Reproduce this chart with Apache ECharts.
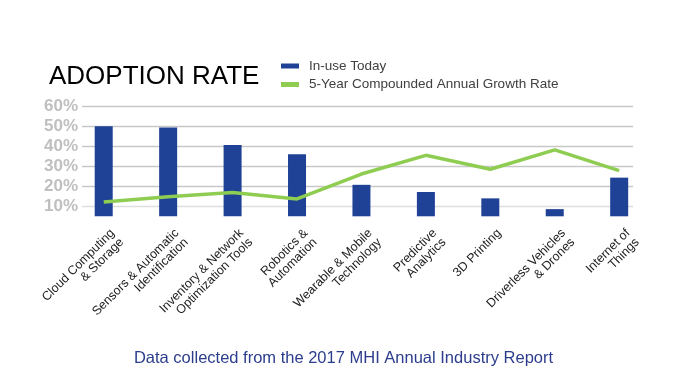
<!DOCTYPE html>
<html>
<head>
<meta charset="utf-8">
<script src="https://cdn.jsdelivr.net/npm/echarts@6/dist/echarts.min.js"></script>
<style>
html,body{margin:0;padding:0;background:#fff;}
#chart{width:687px;height:383px;}
</style>
</head>
<body>
<div id="chart"></div>
<script>
const categories = [
  'Cloud Computing\n& Storage',
  'Sensors & Automatic\nIdentification',
  'Inventory & Network\nOptimization Tools',
  'Robotics &\nAutomation',
  'Wearable & Mobile\nTechnology',
  'Predictive\nAnalytics',
  '3D Printing',
  'Driverless Vehicles\n& Drones',
  'Internet of\nThings'
];
const inUseToday = [50.2, 49.6, 40.8, 36.1, 20.8, 17.2, 14.0, 8.6, 24.4];
const cagr5yr = [12.2, 14.8, 17.0, 13.7, 26.2, 35.6, 28.6, 38.3, 27.9];
const yTicks = [10, 20, 30, 40, 50, 60];
const yMin = 5, yMax = 60;

const chart = echarts.init(document.getElementById('chart'));
const FONT = 'Liberation Sans, Arial, sans-serif';

const gridColors = [];
for (let v = yMin; v <= yMax; v += 5) {
  if (yTicks.indexOf(v) < 0) gridColors.push('rgba(0,0,0,0)');
  else gridColors.push(v === 10 ? '#dedede' : '#c8c8c8');
}

chart.setOption({
  animation: false,
  backgroundColor: '#ffffff',
  title: [{
    text: 'ADOPTION RATE',
    left: 44, top: 59,
    textStyle: {fontFamily: FONT, fontSize: 26, fontWeight: 'normal', color: '#000'}
  }, {
    text: 'Data collected from the 2017 MHI Annual Industry Report',
    left: 'center', top: 345,
    textStyle: {fontFamily: FONT, fontSize: 16.5, fontWeight: 'normal', color: '#2b3d8c'}
  }],
  legend: {
    orient: 'vertical',
    left: 281, top: 59, padding: 0,
    itemWidth: 18, itemHeight: 5, itemGap: 4.5,
    icon: 'rect',
    textStyle: {fontFamily: FONT, fontSize: 13.5, color: '#404040', padding: [0, 0, 0, 5]},
    data: ['In-use Today', '5-Year Compounded Annual Growth Rate']
  },
  grid: [
    {left: 71.5, right: 35.6, top: 106.7, bottom: 166.7},
    {left: 82, right: 54, top: 106.7, bottom: 166.7}
  ],
  xAxis: [{
    type: 'category', gridIndex: 0, data: categories,
    axisLine: {show: false}, axisTick: {show: false},
    axisLabel: {
      rotate: 45, interval: 0, margin: 6,
      fontFamily: FONT, fontSize: 12.5, color: '#222', lineHeight: 13,
      align: 'right', verticalAlign: 'top', padding: [6, 0, 0, 0]
    }
  }, {
    type: 'category', gridIndex: 1, data: categories, show: false
  }],
  yAxis: [{
    type: 'value', gridIndex: 0, min: yMin, max: yMax, interval: 5,
    axisLine: {show: false}, axisTick: {show: false}, axisLabel: {show: false},
    splitLine: {show: false}
  }, {
    type: 'value', gridIndex: 1, min: yMin, max: yMax, interval: 5,
    axisLine: {show: false}, axisTick: {show: false},
    axisLabel: {
      margin: 4, fontFamily: FONT, fontSize: 17, fontWeight: 'bold', color: '#bfbfbf',
      formatter: function (v) { return yTicks.indexOf(v) >= 0 ? v + '%' : ''; }
    },
    splitLine: {show: true, lineStyle: {color: gridColors, width: 1.3}}
  }],
  series: [{
    name: 'In-use Today', type: 'bar', xAxisIndex: 0, yAxisIndex: 0,
    data: inUseToday, barWidth: 18,
    itemStyle: {color: '#1f4196'}
  }, {
    name: '5-Year Compounded Annual Growth Rate', type: 'line', xAxisIndex: 0, yAxisIndex: 0,
    data: cagr5yr, symbol: 'none',
    lineStyle: {color: '#8fcd52', width: 3.5},
    itemStyle: {color: '#8fcd52'}
  }]
});
</script>
</body>
</html>
